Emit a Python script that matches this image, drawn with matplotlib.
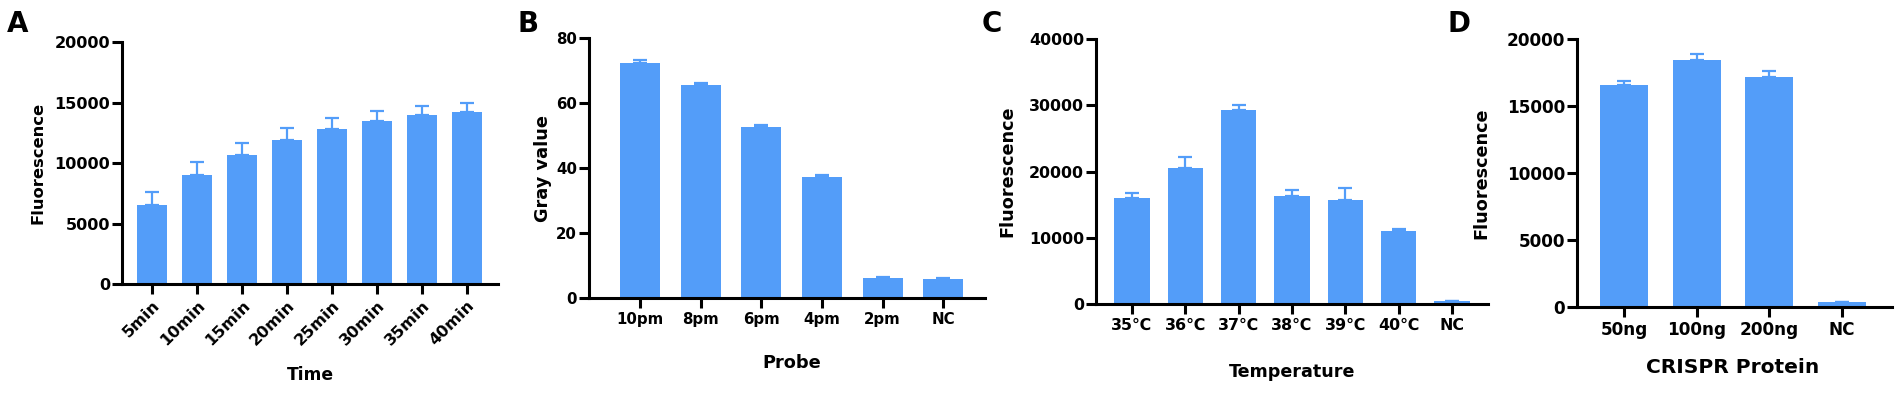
import numpy as np
import matplotlib.pyplot as plt

plt.rcParams["font.family"] = ["DejaVu Sans"]
plt.rcParams["font.weight"] = "bold"

BLUE = "#539df9"

# panel A
time_labels = ["5min", "10min", "15min", "20min", "25min", "30min", "35min", "40min"]
time_mean = [6540, 9010, 10630, 11900, 12830, 13490, 13980, 14230]
time_top = [7580, 10050, 11680, 12860, 13740, 14310, 14730, 14970]

# panel B
probe_labels = ["10pm", "8pm", "6pm", "4pm", "2pm", "NC"]
probe_mean = [72.3, 65.6, 52.75, 37.3, 6.3, 5.9]
probe_top = [73.2, 66.2, 53.2, 37.7, 6.45, 6.05]

# panel C
temp_labels = ["35℃", "36℃", "37℃", "38℃", "39℃", "40℃", "NC"]
temp_mean = [16030, 20600, 29300, 16280, 15730, 10950, 400]
temp_top = [16830, 22260, 30050, 17240, 17490, 11300, 450]

# panel D
prot_labels = ["50ng", "100ng", "200ng", "NC"]
prot_mean = [16540, 18430, 17140, 350]
prot_top = [16870, 18880, 17590, 400]

W, H = 1902, 394
fig = plt.figure(figsize=(W / 100, H / 100), dpi=100)


def make_ax(x0, x1, y0, y1):
    # pixel box -> figure fraction
    return fig.add_axes([x0 / W, 1 - y0 / H, (x1 - x0) / W, (y0 - y1) / H])


def panel(ax, labels, mean, top, ylim, yticks, xlim, ylabel, xlabel,
          tick_fs, ylab_fs, xlab_fs, ylab_x, xlab_xy, rot=0):
    x = np.arange(len(labels))
    mean = np.array(mean)
    err = np.array(top) - mean
    ax.bar(x, mean, width=0.66, color=BLUE, zorder=2)
    ax.errorbar(x, mean, yerr=[np.zeros_like(err), err], fmt="none",
                ecolor=BLUE, elinewidth=1.6, capsize=5, capthick=1.6, zorder=3)
    ax.set_xlim(*xlim)
    ax.set_ylim(*ylim)
    ax.set_yticks(yticks)
    ax.set_xticks(x)
    if rot:
        ax.set_xticklabels(labels, rotation=rot, ha="right", rotation_mode="anchor")
    else:
        ax.set_xticklabels(labels)
    for s in ["top", "right"]:
        ax.spines[s].set_visible(False)
    for s in ["left", "bottom"]:
        ax.spines[s].set_linewidth(2.2)
    ax.tick_params(width=2.2, length=7, labelsize=tick_fs)
    ax.tick_params(axis="y", pad=1.5)
    ax.tick_params(axis="x", pad=3)
    ax.set_ylabel(ylabel, fontsize=ylab_fs, fontweight="bold", va="center")
    ax.set_xlabel(xlabel, fontsize=xlab_fs, fontweight="bold", va="center")
    ax.yaxis.set_label_coords(ylab_x, 0.5)
    ax.xaxis.set_label_coords(*xlab_xy)
    return ax


axA = make_ax(122, 498, 284, 42)
panel(axA, time_labels, time_mean, time_top, (0, 20000), [0, 5000, 10000, 15000, 20000],
      (-0.667, 7.69), "Fluorescence", "Time", 11.6, 11.8, 12.3, -0.223, (0.5, -0.376), rot=45)

axB = make_ax(589, 985, 298, 38)
panel(axB, probe_labels, probe_mean, probe_top, (0, 80), [0, 20, 40, 60, 80],
      (-0.84, 5.69), "Gray value", "Probe", 10.8, 12.8, 12.8, -0.116, (0.513, -0.25))

axC = make_ax(1096, 1488, 304, 39)
panel(axC, temp_labels, temp_mean, temp_top, (0, 40000), [0, 10000, 20000, 30000, 40000],
      (-0.675, 6.675), "Fluorescence", "Temperature", 11.4, 12.7, 12.6, -0.227, (0.5, -0.257))

axD = make_ax(1577, 1892, 307, 39)
panel(axD, prot_labels, prot_mean, prot_top, (0, 20000), [0, 5000, 10000, 15000, 20000],
      (-0.646, 3.69), "Fluorescence", "CRISPR Protein", 12.2, 12.7, 14.5, -0.302, (0.495, -0.224))

for letter, px in [("A", 7), ("B", 518), ("C", 982), ("D", 1448)]:
    fig.text(px / W, 1 - 32 / H, letter, fontsize=20, fontweight="bold")

fig.savefig("out.png", dpi=100)
